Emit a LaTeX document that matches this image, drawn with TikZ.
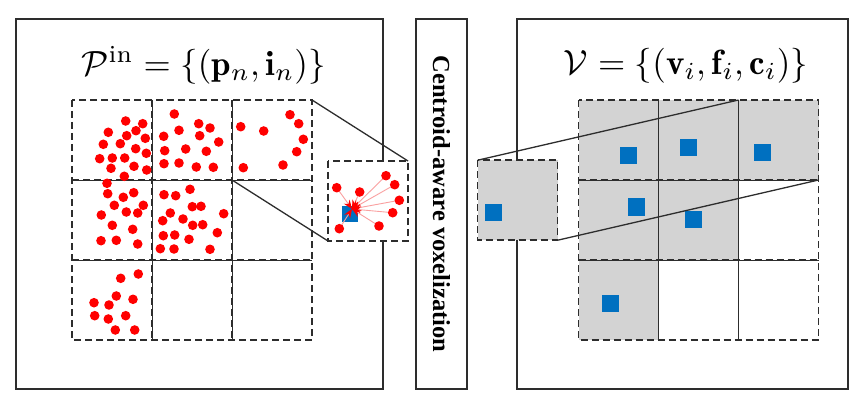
\documentclass[tikz,border=0pt]{standalone}
\usepackage{fontspec}
\newfontfamily\labelfont{Liberation Serif}
\usetikzlibrary{arrows.meta}
\definecolor{edgegray}{RGB}{45,45,45}
\definecolor{cellgray}{RGB}{211,211,211}
\definecolor{voxblue}{RGB}{0,112,192}
\definecolor{ptred}{RGB}{255,0,0}
\definecolor{raypink}{RGB}{250,160,160}
\begin{document}
\begin{tikzpicture}[x=1pt,y=-1pt,
  panel/.style={draw=edgegray, line width=1.8pt, inner sep=0pt, outer sep=0pt},
  cell/.style={minimum width=80pt, minimum height=80pt, inner sep=0pt, outer sep=0pt},
  dashline/.style={draw=edgegray, line width=1.5pt, dash pattern=on 7pt off 4pt},
  gridline/.style={draw=edgegray, line width=0.6pt},
  link/.style={draw=edgegray, line width=1.3pt},
  vox/.style={fill=voxblue, minimum size=17pt, inner sep=0pt, outer sep=0pt},
  ray/.style={draw=raypink, line width=0.9pt, -{Stealth[ptred, length=9pt, width=7pt]}},
  dot/.style={fill=ptred}
]
\useasboundingbox (0,0) rectangle (860,409);

% panels
\node[panel, minimum width=367pt, minimum height=370pt] (pl) at (199.5,204) {};
\node[panel, minimum width=51pt, minimum height=370pt] (pm) at (441.5,204) {};
\node[panel, minimum width=331.6pt, minimum height=370pt] (pr) at (682.5,204) {};

% titles
\node[anchor=base, inner sep=0pt] (tl) at (203.5,75.5)
  {\scalebox{3.5}{$\mathcal{P}^{\mathrm{in}} = \{(\mathbf{p}_n, \mathbf{i}_n)\}$}};
\node[anchor=base, inner sep=0pt] (tr) at (686,74.5)
  {\scalebox{3.5}{$\mathcal{V} = \{(\mathbf{v}_i, \mathbf{f}_i, \mathbf{c}_i)\}$}};

% middle label
\node[rotate=-90, inner sep=0pt, font=\labelfont\bfseries\fontsize{24.5}{26}\selectfont]
  (vt) at (441.5,204) {Centroid-aware voxelization};

% ---------- left grid ----------
\foreach \c in {1,2,3} \foreach \r in {1,2,3}
  \node[cell] (l\c\r) at ({32+80*\c},{60+80*\r}) {};
\draw[gridline] (l11.north east) -- (l13.south east);
\draw[gridline] (l21.north east) -- (l23.south east);
\draw[gridline] (l11.south west) -- (l31.south east);
\draw[gridline] (l12.south west) -- (l32.south east);
\draw[dashline] (l11.north west) rectangle (l33.south east);
\draw[dashline] (l11.north east) -- (l13.south east);
\draw[dashline] (l21.north east) -- (l23.south east);
\draw[dashline] (l11.south west) -- (l31.south east);
\draw[dashline] (l12.south west) -- (l32.south east);

% points
\foreach \x/\y in {125.7/121,142.7/123.7,108.3/132.3,136/130.7,126.7/135.7,145.3/138.3,
  103.3/144.3,120.3/143.7,135.7/148.7,146.3/153.3,99.7/158.7,112.3/158,124.7/158,
  134/166.3,111/168.3,146.7/170,124.3/176.3,
  174.3/114,198.7/123.7,210/128,179/130.3,199.7/135.7,163.7/136.3,218.7/142,
  185.7/149,206.3/151.3,164.7/150.7,164/163.7,179/163,196.3/167,213.3/167.3,
  240.7/126.7,263.7/131,290/114.7,298.7/123.7,303.3/139.3,296.7/151.7,283/165,243.3/167.7,
  107/183.3,107.7/193.7,133.7/192.7,123.3/197.3,114.3/205.3,143.3/205.3,101.3/215,
  126.3/212,137.7/213,112.3/225.3,132.7/229.3,101/240.7,116.3/240.3,137.7/244,
  190/189.3,164/194.7,175.7/195.7,192.3/206.7,201/206.3,170.3/213,183/219,223.7/213.7,
  162.7/220.7,192.7/225.3,202.7/224.7,163.3/235.7,174.7/235,189/239.3,217.3/232.7,
  160.3/248.7,174/249,210/249.3,
  138.3/274,120.7/278.3,116.3/296,133/299.3,94/302.7,109/305,94.7/315.7,108.3/319,
  125.7/315.7,115.3/330,134.7/330}
  \fill[dot] (\x,\y) circle[radius=4.8pt];

% magnified cell (left)
\node[cell, fill=white] (magL) at (368,201) {};
\draw[dashline] (magL.north west) rectangle (magL.south east);
\draw[link] (l31.north east) -- (magL.north east);
\draw[link] (l31.south west) -- (magL.south west);
\node[vox, minimum size=16pt] (cL) at (350,214) {};
\coordinate (ctr) at (352,209);
\foreach \x/\y in {336.7/187.7,359.7/192,386/175.7,394.7/184.7,399.3/200.3,392.7/212.7,379/226,339.3/228.7}
  {\draw[ray] (\x,\y) -- (ctr);}
\foreach \x/\y in {336.7/187.7,359.7/192,386/175.7,394.7/184.7,399.3/200.3,392.7/212.7,379/226,339.3/228.7}
  {\fill[dot] (\x,\y) circle[radius=4.8pt];}

% ---------- right grid ----------
\foreach \c/\r in {1/1,2/1,3/1,1/2,2/2,1/3}
  \fill[cellgray] ({538.5+80*\c-40},{60+80*\r-40}) rectangle +(80,80);
\foreach \c in {1,2,3} \foreach \r in {1,2,3}
  \node[cell] (r\c\r) at ({538.5+80*\c},{60+80*\r}) {};
\draw[gridline] (r11.north east) -- (r13.south east);
\draw[gridline] (r21.north east) -- (r23.south east);
\draw[gridline] (r11.south west) -- (r31.south east);
\draw[gridline] (r12.south west) -- (r32.south east);
\draw[dashline] (r11.north west) rectangle (r33.south east);
\draw[dashline] (r11.north east) -- (r13.south east);
\draw[dashline] (r21.north east) -- (r23.south east);
\draw[dashline] (r11.south west) -- (r31.south east);
\draw[dashline] (r12.south west) -- (r32.south east);

\node[vox] (v11) at (628.3,155.3) {};
\node[vox] (v21) at (688.7,147.7) {};
\node[vox] (v31) at (762,152.7) {};
\node[vox] (v12) at (636.3,207) {};
\node[vox] (v22) at (693.7,219.3) {};
\node[vox] (v13) at (610.7,303.7) {};

% magnified cell (right)
\node[cell, fill=cellgray] (magR) at (517.7,200.2) {};
\draw[dashline] (magR.north west) rectangle (magR.south east);
\draw[link] (magR.north west) -- (r31.north west);
\draw[link] (magR.south east) -- (r31.south east);
\node[vox] (vm) at (493.7,212.7) {};
\end{tikzpicture}
\end{document}
